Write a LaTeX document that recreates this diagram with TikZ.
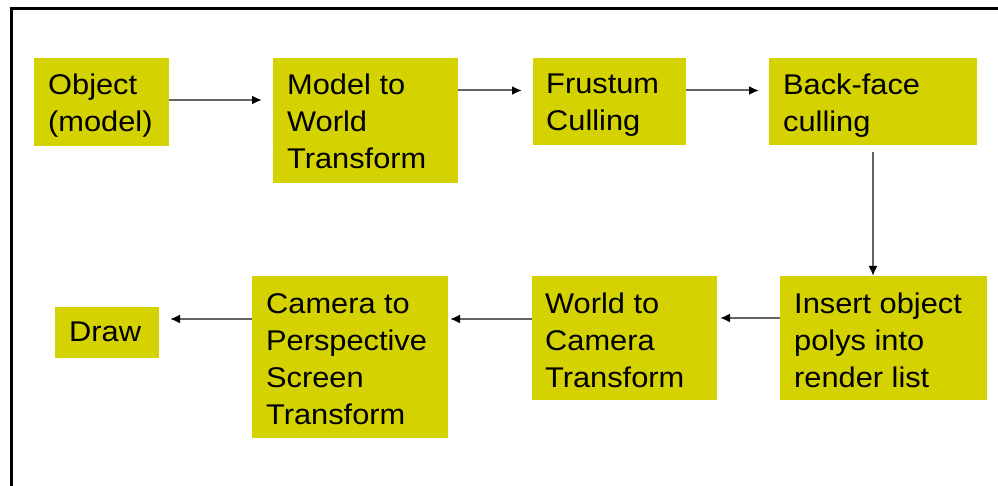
\documentclass[tikz,border=0pt]{standalone}
\usepackage{fontspec}
\setmainfont{Liberation Sans}[FakeStretch=1.08]
\usetikzlibrary{arrows.meta,calc}
\definecolor{ylw}{RGB}{212,210,0}
\definecolor{lnc}{RGB}{100,100,100}
\begin{document}
\begin{tikzpicture}[x=1pt,y=-1pt,
  box/.style={fill=ylw,draw=none,inner sep=0pt,outer sep=0pt},
  lbl/.style={anchor=north west,inner sep=0pt,align=left,text=black,
    font=\fontsize{28.5}{37}\selectfont},
  arr/.style={draw=lnc,line width=2pt,-{Latex[length=10pt,width=9pt,color=black]}}]
\useasboundingbox (0,0) rectangle (998,486);
\fill[white] (0,0) rectangle (998,486);
\draw[line width=3pt,line cap=rect] (998,8.5) -- (11.5,8.5) -- (11.5,486);
% boxes
\node[box,minimum width=135pt,minimum height=88pt] (obj) at (101.5,102) {};
\node[box,minimum width=185pt,minimum height=125pt] (m2w) at (365.5,120.5) {};
\node[box,minimum width=153pt,minimum height=87pt] (frus) at (609.5,101.5) {};
\node[box,minimum width=208pt,minimum height=87pt] (back) at (873,101.5) {};
\node[box,minimum width=207pt,minimum height=124pt] (ins) at (883.5,338) {};
\node[box,minimum width=185pt,minimum height=124pt] (w2c) at (624.5,338) {};
\node[box,minimum width=196pt,minimum height=162pt] (cam) at (350,357) {};
\node[box,minimum width=104pt,minimum height=51pt] (draw) at (107,332.5) {};
% labels
\node[lbl] (tobj) at ($(obj.north west)+(14,16)$) {Object\\(model)};
\node[lbl] (tm2w) at ($(m2w.north west)+(14,16)$) {Model to\\World\\Transform};
\node[lbl] (tfrus) at ($(frus.north west)+(13,16)$) {Frustum\\Culling};
\node[lbl] (tback) at ($(back.north west)+(14,16)$) {Back-face\\culling};
\node[lbl] (tins) at ($(ins.north west)+(14,17)$) {Insert object\\polys into\\render list};
\node[lbl] (tw2c) at ($(w2c.north west)+(13,17)$) {World to\\Camera\\Transform};
\node[lbl] (tcam) at ($(cam.north west)+(14,17)$) {Camera to\\Perspective\\Screen\\Transform};
\node[lbl] (tdraw) at ($(draw.north west)+(14,15)$) {Draw};
% connectors
\draw[arr,shorten >=11pt] (obj.east |- 0,100) -- (m2w.west |- 0,100);
\draw[arr,shorten >=11pt] (m2w.east |- 0,90.5) -- (frus.west |- 0,90.5);
\draw[arr,shorten >=10pt] (frus.east |- 0,90.5) -- (back.west |- 0,90.5);
\draw[arr,shorten <=7pt] (back.south) -- (back.south |- ins.north);
\draw[arr,shorten >=3pt] (ins.west |- 0,318) -- (w2c.east |- 0,318);
\draw[arr,shorten >=2pt] (w2c.west |- 0,319) -- (cam.east |- 0,319);
\draw[arr,shorten >=11pt] (cam.west |- 0,319) -- (draw.east |- 0,319);
\end{tikzpicture}
\end{document}
